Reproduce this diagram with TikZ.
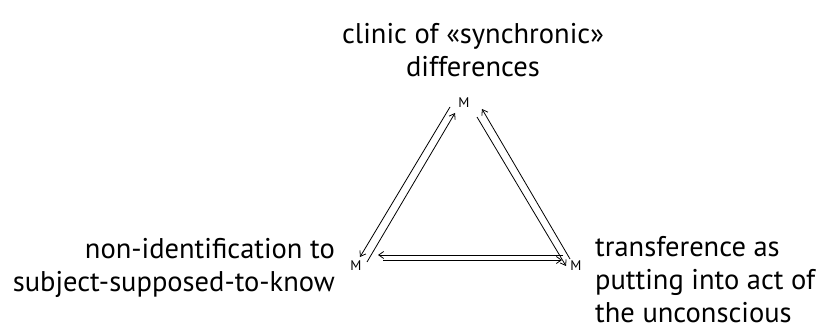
\documentclass[tikz,border=0pt]{standalone}
\usepackage{fontspec}
\setmainfont{PT Sans}
\usetikzlibrary{arrows.meta}
\tikzset{
  lbl/.style={font=\fontsize{28.5}{33}\selectfont, inner sep=0pt},
  mlbl/.style={font=\fontsize{14}{14}\selectfont, inner sep=0pt},
  arr/.style={line width=0.8pt, -{Straight Barb[length=5pt,width=7pt]}},
}
\begin{document}
\begin{tikzpicture}[x=1pt,y=-1pt]
\useasboundingbox (0,0) rectangle (835,336);
% M nodes
\node[mlbl] (T) at (464,103) {M};
\node[mlbl] (L) at (356,266) {M};
\node[mlbl] (R) at (576,266) {M};
% labels (base anchor = baseline of the last line)
\node[lbl, anchor=base, align=center] (tt) at (473,77) {clinic of «synchronic»\\differences};
\node[lbl, anchor=base east, align=right] (lt) at (335,292) {non-identification to\\subject-supposed-to-know};
\node[lbl, anchor=base west, align=left] (rt) at (595,323) {transference as\\putting into act of\\the unconscious};
% endpoints
\coordinate (a1) at (450,107); \coordinate (a2) at (360,257);
\coordinate (b1) at (367,262); \coordinate (b2) at (455,113);
\coordinate (c1) at (570,259); \coordinate (c2) at (482,109);
\coordinate (d1) at (477,117); \coordinate (d2) at (566,266);
\coordinate (e1) at (563,255); \coordinate (e2) at (378,255);
\coordinate (f1) at (383,260); \coordinate (f2) at (562,260);
\draw[arr] (a1) -- (a2);
\draw[arr] (b1) -- (b2);
\draw[arr] (c1) -- (c2);
\draw[arr] (d1) -- (d2);
\draw[arr] (e1) -- (e2);
\draw[arr] (f1) -- (f2);
\end{tikzpicture}
\end{document}
